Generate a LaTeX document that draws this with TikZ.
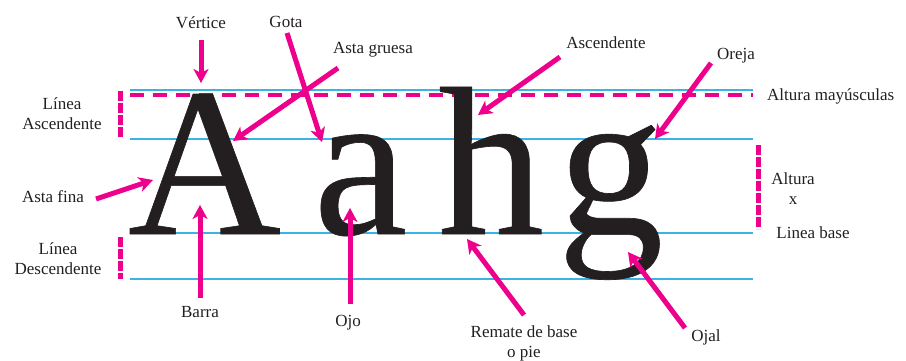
\documentclass[tikz,border=0pt]{standalone}
\usepackage{fontspec}
\setmainfont{Liberation Serif}
\newfontfamily\letterfont[FakeBold=0.3]{Liberation Serif}
\usetikzlibrary{arrows.meta}
\definecolor{magentaline}{HTML}{EC008C}
\definecolor{cyanline}{HTML}{3BB4E5}
\definecolor{ink}{HTML}{231F20}
\begin{document}
\begin{tikzpicture}[x=1pt,y=-1pt,
  lbl/.style={font=\fontsize{17}{20}\selectfont, align=center, inner sep=0pt, text=ink},
  bigletter/.style={font=\fontsize{212}{212}\letterfont, inner sep=0pt, anchor=base, text=ink},
  guide/.style={draw=cyanline, line width=1.5pt},
  ptr/.style={draw=magentaline, line width=5pt, -{Stealth[length=14pt,width=15pt,inset=4pt]}},
  capdash/.style={draw=magentaline, line width=4.5pt, dash pattern=on 14pt off 9pt},
  bracketline/.style={draw=magentaline, line width=5pt, dash pattern=on 10pt off 2pt},
]
\useasboundingbox (0,0) rectangle (906,361);

% guide lines
\coordinate (g1l) at (130,90);  \coordinate (g1r) at (753,90);
\coordinate (g2l) at (130,139); \coordinate (g2r) at (753,139);
\coordinate (g3l) at (130,233); \coordinate (g3r) at (753,233);
\coordinate (g4l) at (130,279); \coordinate (g4r) at (753,279);
\draw[guide] (g1l) -- (g1r);
\draw[guide] (g2l) -- (g2r);
\draw[guide] (g3l) -- (g3r);
\draw[guide] (g4l) -- (g4r);
\coordinate (dl) at (130,95); \coordinate (dr) at (753,95);
\draw[capdash] (dl) -- (dr);

% brackets
\coordinate (b1t) at (120,91);  \coordinate (b1b) at (120,137);
\coordinate (b2t) at (120,237); \coordinate (b2b) at (120,279);
\coordinate (b3t) at (758,145); \coordinate (b3b) at (758,229);
\draw[bracketline] (b1t) -- (b1b);
\draw[bracketline] (b2t) -- (b2b);
\draw[bracketline] (b3t) -- (b3b);

% letters
\node[bigletter] (LA) at (204.5,234) {A};
\node[bigletter] (La) at (360.5,234) {a};
\node[bigletter] (Lh) at (491,234) {h};
\node[bigletter] (Lg) at (610.5,234) {g};

% labels
\node[lbl] (vertice) at (201,23) {Vértice};
\node[lbl] (gota) at (286,22) {Gota};
\node[lbl] (gruesa) at (373,50) {Asta gruesa};
\node[lbl] (lasc) at (62,114) {Línea\\Ascendente};
\node[lbl] (ascend) at (606,43) {Ascendente};
\node[lbl] (oreja) at (736,56) {Oreja};
\node[lbl, anchor=west] (altmay) at (767,96) {Altura mayúsculas};
\node[lbl] (fina) at (53,197) {Asta fina};
\node[lbl] (ldesc) at (58,259) {Línea\\Descendente};
\node[lbl] (barra) at (200,312) {Barra};
\node[lbl] (ojo) at (348,323) {Ojo};
\node[lbl] (remate) at (524,343) {Remate de base\\o pie};
\node[lbl] (ojal) at (706,337) {Ojal};
\node[lbl] (altx) at (793,189) {Altura\\x};
\node[lbl] (lbase) at (813,233) {Linea base};

% arrows
\coordinate (s1) at (201,40);  \coordinate (t1) at (201,83);
\coordinate (s2) at (287,33);  \coordinate (t2) at (322,142);
\coordinate (s3) at (338,68);  \coordinate (t3) at (233,141);
\coordinate (s4) at (560,57);  \coordinate (t4) at (478,115);
\coordinate (s5) at (711,63);  \coordinate (t5) at (655,139);
\coordinate (s6) at (96,199);  \coordinate (t6) at (153,180);
\coordinate (s7) at (200,298); \coordinate (t7) at (200,205);
\coordinate (s8) at (350,304); \coordinate (t8) at (350,208);
\coordinate (s9) at (524,315); \coordinate (t9) at (467,239);
\coordinate (s10) at (685,328); \coordinate (t10) at (628,252);
\foreach \i in {1,...,10} {\draw[ptr] (s\i) -- (t\i);}
\end{tikzpicture}
\end{document}
